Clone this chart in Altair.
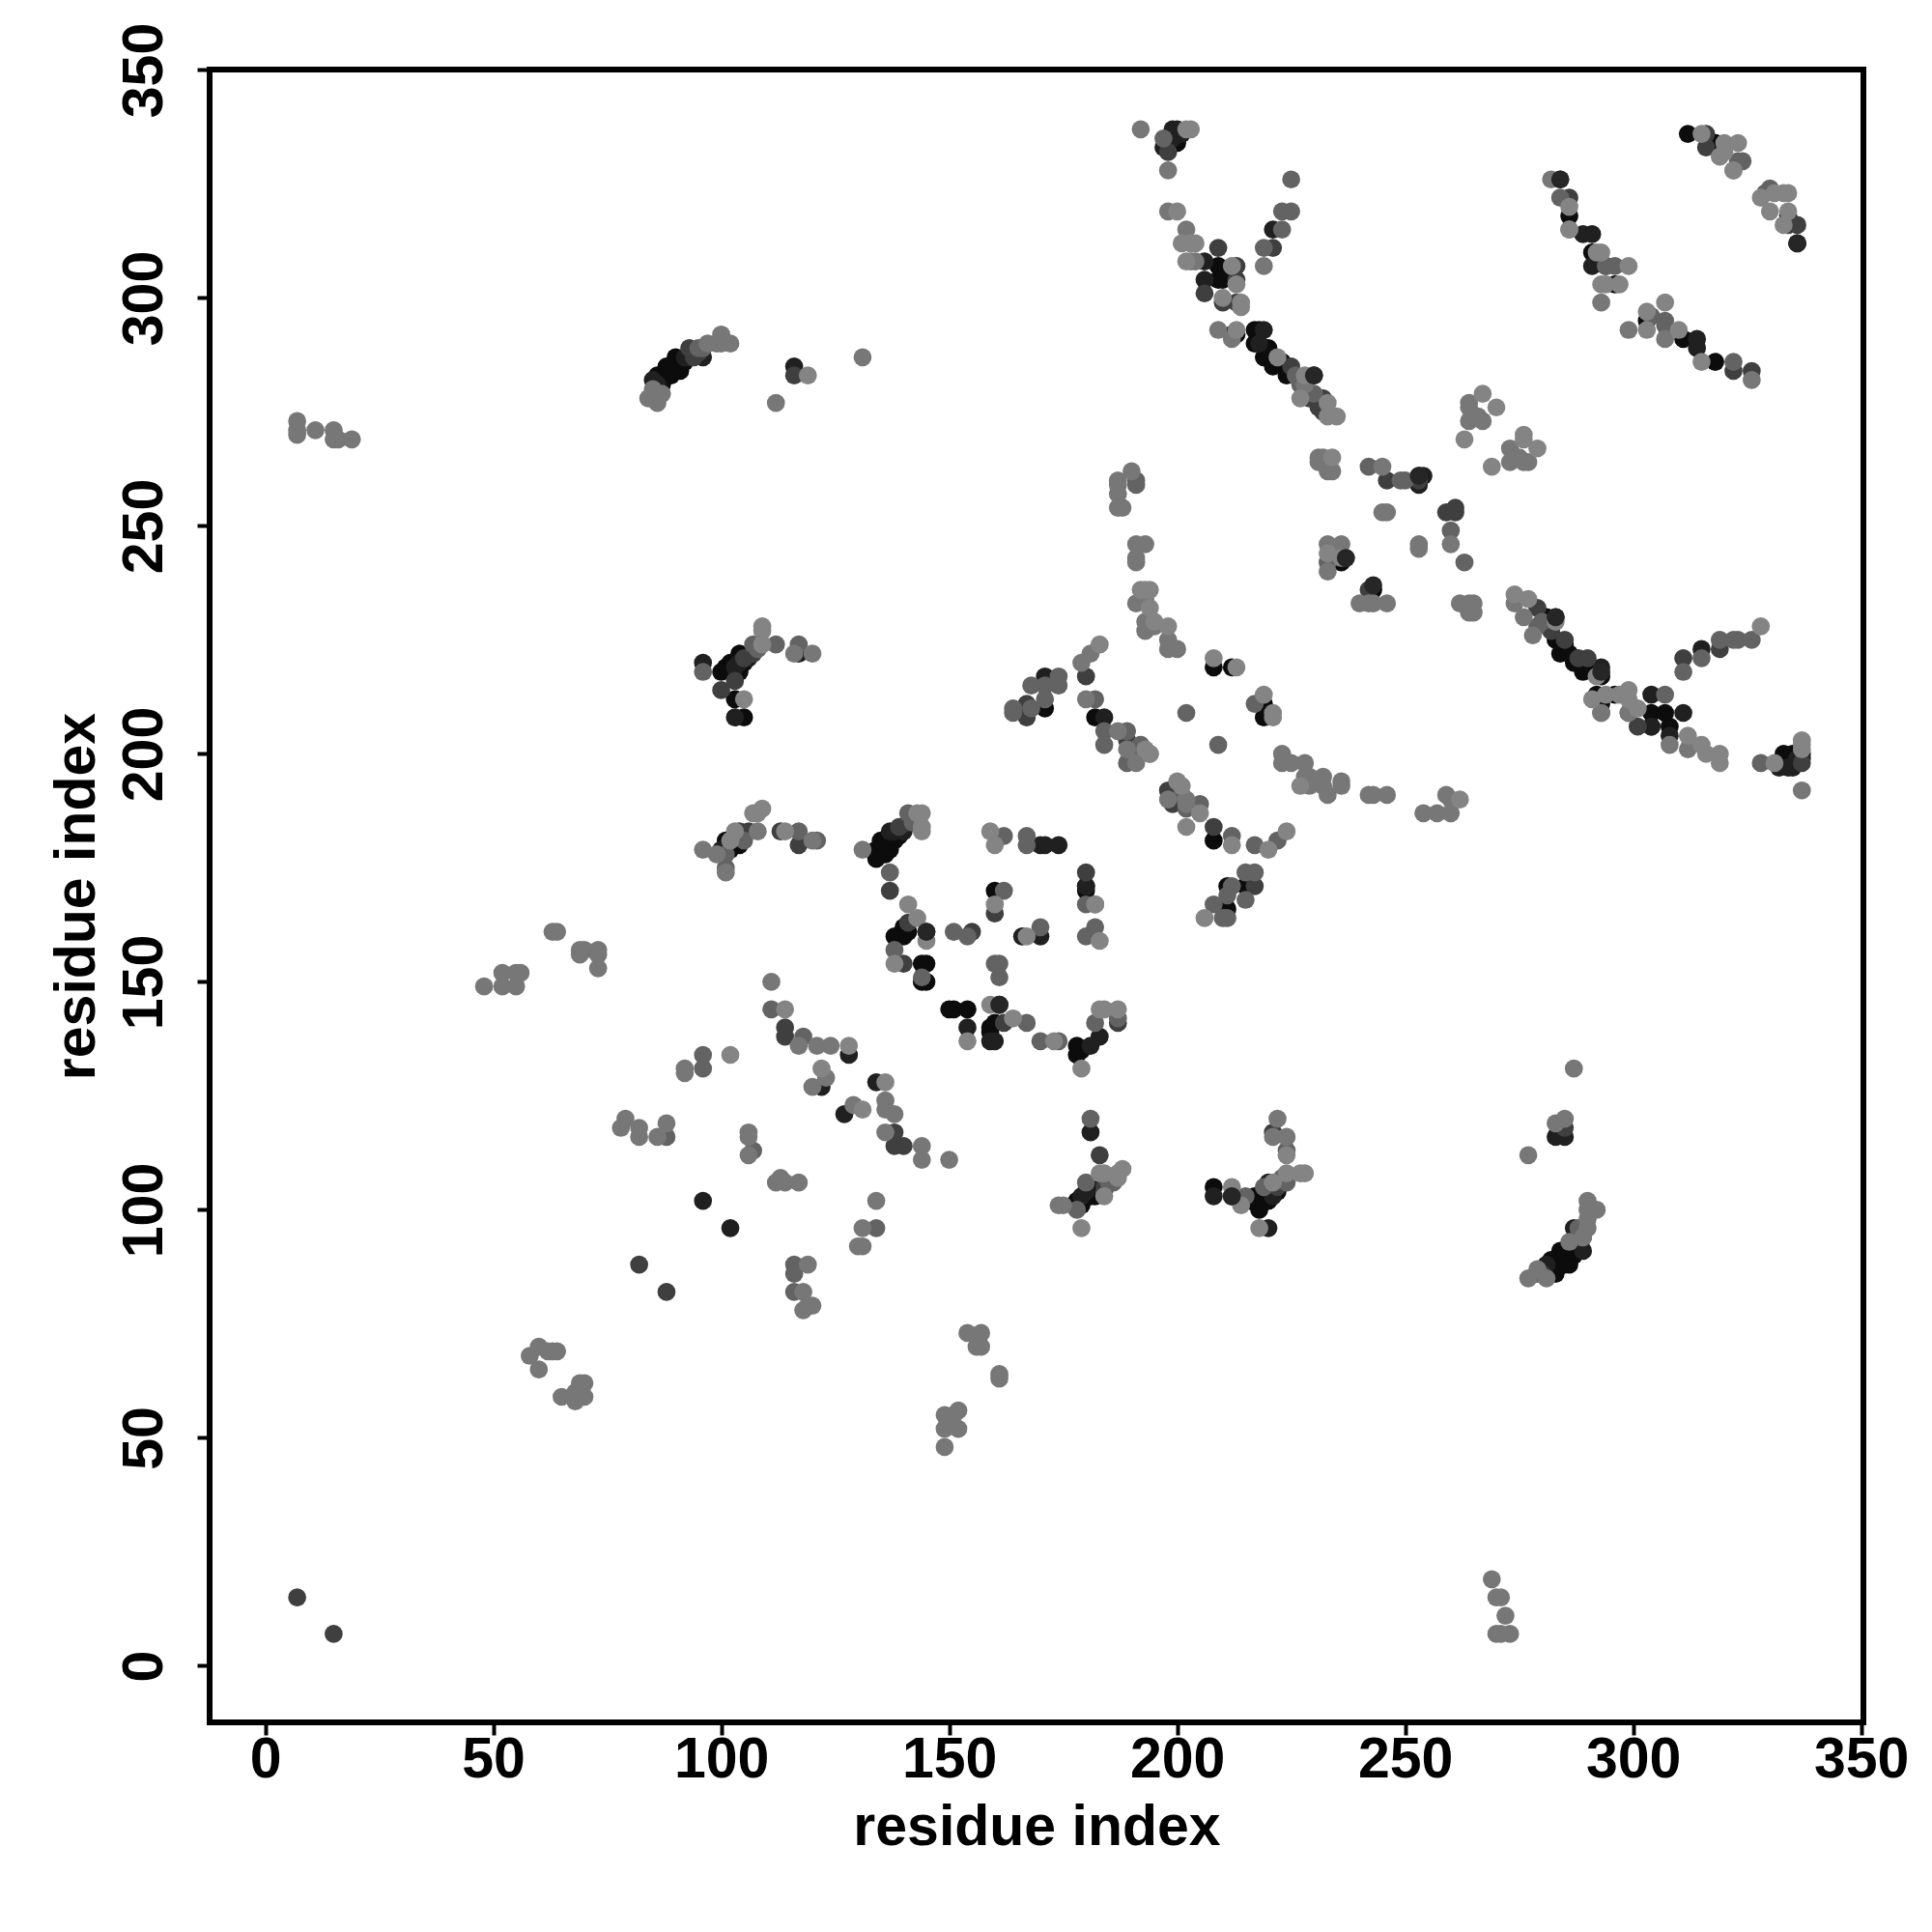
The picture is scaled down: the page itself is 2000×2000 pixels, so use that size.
import altair as alt
import pandas as pd

# contacts grouped by shade, (residue i, residue j); drawn black first, light afterwards
black = [(200,334),(209,307),(209,304),(210,304),(212,292),(213,292),(217,293),(218,293),(217,290),(219,287),(221,285),(224,283),
 (286,318),(291,310),(294,307),(296,303),(318,334),(334,318),(336,312),(312,336),(311,291),(318,286),(303,295),
 (281,230),(283,225),(284,222),(287,220),(289,218),(293,217),(292,213),(293,211),(296,213),(304,209),(307,209),(304,206),(308,206),(333,200),(335,200),(215,171),
 (90,287),(91,284),(88,285),(86,283),(89,283),(87,282),(104,222),(102,220),(103,212),(105,208),(100,218),(102,179),(104,180),(101,181),
 (134,179),(135,181),(136,178),(134,177),(137,179),(140,162),(140,160),(145,161),(138,160),(144,154),(145,154),(145,150),(144,150),
 (150,144),(151,144),(154,144),(161,145),(159,140),(160,141),(159,139),(178,136),(178,134),(179,135),(180,170),(160,170),(171,210),(182,208),(208,219),(212,219),(219,211),(219,208),(208,181),(211,171),(211,166),
 (243,236),(236,242),(179,101),(182,103),(180,103),(178,102),(181,104),(208,105),(212,103),(217,103),(218,100),(220,102),(222,104),(216,102),(287,90),(284,91),(285,88),(282,89),(283,86),(286,88),(288,92),
 (88,283),(89,284),(90,285),(91,286),(92,286),(87,281),(103,217),(104,218),(105,220),(101,219),(137,181),(138,181),(139,182),(102,180),(103,181),(181,103),(182,104),(183,105),(219,103),(220,104),(221,105),(218,101),(282,87),(283,88),(284,89),(285,90),(286,91),(287,91),(140,161),(141,161),(139,160),
 (220,289),(220,288),(223,286),(285,224),(286,222),(291,219)]
vdark = [(199,337),(200,337),(199,335),(197,333),(201,336),(206,308),(206,304),(219,293),(218,290),(230,283),(221,315),(284,326),(289,314),(291,314),(291,307),(314,291),(314,289),
 (283,230),(293,219),(304,213),(304,206),(308,204),(311,209),(315,223),(332,197),(334,197),(335,197),(337,199),
 (116,285),(96,287),(96,220),(103,208),(117,222),(137,183),(171,217),(170,180),(171,180),(174,180),(180,171),(170,160),(166,160),(159,137),(160,137),(154,140),(183,138),(181,136),
 (184,208),(96,102),(102,96),(134,128),(128,134),(122,127),(127,121),(180,171),(253,261),(254,261),(253,259),(208,103),(184,105),(220,96),(285,116),(283,116),(181,117),(287,96),
 (92,287),(93,287),(86,281),(85,282),(106,221),(104,220),(103,219),(105,182),(103,182),(100,179),(138,183),(140,183),(180,104),(179,103),(220,106),(221,103),(281,88),(280,87),(288,93),(289,91),(337,200),(336,199)]
dark = [(198,332),(209,311),(213,304),(213,299),(213,307),(225,285),(221,311),(231,276),(229,278),(206,301),(210,299),(286,322),(322,284),(326,284),(316,333),(316,336),
 (259,253),(261,254),(261,253),(253,260),(237,243),(242,236),(246,260),(285,225),(279,232),(290,221),(301,206),(299,209),(319,223),(311,221),(337,198),
 (116,283),(93,289),(94,287),(103,216),(100,214),(117,180),(113,183),(137,170),(141,163),(140,154),(155,161),(162,141),(187,141),(183,112),(208,184),(217,171),(7,15),(15,7),(82,88),(88,82),
 (114,140),(114,138),(138,114),(140,114),(138,117),(167,211),(167,208),(180,217),(198,192),(199,189),(180,174),(160,165),(221,117),(184,104),(285,118),(336,316),(334,316),
 (94,288),(95,288),(105,221),(107,222),(106,183),(104,183),(139,184),(141,185),(184,105),(222,105),(288,94),(289,94),(280,86),(199,191),(200,190),(190,199),(191,200),(189,203),(190,201),
 (232,278),(231,278),(232,275),(288,221),(282,227)]
mid = [(197,335),(223,319),(225,319),(225,326),(223,315),(219,311),(284,322),(296,307),(294,307),(304,296),(307,295),(307,294),(329,323),(330,324),(324,330),(323,330),(322,286),
 (242,263),(260,249),(263,242),(250,260),(249,260),(233,242),(307,213),(311,218),(319,225),(326,225),(323,225),(322,225),(315,221),(328,198),(293,209),
 (168,215),(174,217),(174,215),(171,215),(171,212),(168,210),(164,210),(164,209),(182,212),(184,205),(189,205),(192,200),(189,198),(205,189),(212,182),(217,180),(222,181),(215,174),(217,174),(212,171),(215,168),(211,169),(208,167),(210,164),(211,164),(217,211),
 (162,182),(167,182),(167,180),(162,170),(141,187),(137,174),(182,167),(180,167),(182,162),(170,162),(151,161),(154,160),(138,157),(144,151),(160,154),(161,154),(161,151),(167,141),(170,137),(174,137),(182,141),(187,142),
 (112,224),(117,224),(121,181),(117,183),(96,218),(101,175),(111,144),(118,138),(96,134),(96,131),(88,116),(107,113),(134,96),(116,88),(116,86),(116,82),(178,100),(180,106),(215,103),(219,105),(224,113),(224,106),(181,120),(191,260),(191,259),(180,160),(209,202),(202,209),(184,202),
 (95,289),(96,289),(107,224),(108,223),(101,178),(105,181),(142,185),(185,106),(186,106),(223,107),(224,107),(289,96),(288,96),(279,86),(201,191),(202,188),(191,199),(192,202),
 (226,283),(227,281),(230,279),(280,229),(279,228)]
gray = [(192,337),(198,328),(198,319),(202,315),(204,308),(203,308),(209,293),(212,291),(219,307),(228,281),(282,326),(286,315),(293,299),(299,293),(307,291),(322,328),(326,282),
 (264,277),(264,276),(264,273),(266,274),(267,273),(273,267),(273,264),(275,265),(276,264),(277,264),(231,265),(232,265),(231,264),(233,262),(234,262),(245,263),(245,253),(246,253),(253,246),(253,245),(260,246),(233,246),(236,246),(233,240),(240,233),(242,233),(243,233),(246,233),
 (262,233),(264,233),(265,233),(264,231),(265,231),(274,233),(276,230),(278,226),(293,209),(299,209),(308,202),(312,201),(337,192),
 (190,262),(187,260),(187,259),(187,257),(187,254),(188,254),(191,246),(193,246),(191,243),(191,242),(191,233),(193,234),(193,229),(193,227),(195,228),(198,225),(198,223),(200,223),(181,222),(179,220),(180,212),(187,205),(189,201),(191,198),(194,200),
 (223,200),(223,198),(225,198),(228,198),(228,195),(229,195),(229,193),(232,195),(232,193),(233,191),(236,194),(236,193),(242,191),(243,191),(246,191),(254,187),(257,187),(260,187),(259,191),(260,190),(198,190),(202,190),(202,189),
 (85,280),(87,279),(84,278),(86,277),(86,278),(112,277),(131,287),(99,290),(97,290),(100,290),(102,290),(100,292),(116,222),(120,222),(120,181),(99,178),(96,179),(131,179),(101,174),(108,183),
 (63,161),(64,161),(69,157),(70,157),(69,156),(73,157),(73,156),(73,153),(52,152),(55,152),(56,152),(48,149),(52,149),(55,149),(111,150),(117,136),(121,136),(124,136),(120,127),(123,129),(129,123),(136,124),(136,122),(136,117),(138,121),(144,111),(92,131),(92,130),
 (79,120),(78,118),(82,118),(82,116),(86,116),(88,119),(106,117),(106,116),(106,112),(112,106),(113,107),(114,106),(117,106),(134,102),(131,96),(130,92),(131,92),(119,88),(118,82),(118,78),(119,79),(120,79),
 (150,111),(144,114),(174,101),(175,101),(222,120),(224,116),(221,116),
 (7,273),(7,271),(7,270),(11,271),(15,271),(15,269),(16,269),(19,269),(269,19),(270,15),(271,15),(272,11),(270,7),(271,7),(273,7),
 (149,48),(149,52),(149,55),(151,55),(152,52),(152,56),(154,73),(157,73),(157,70),(156,70),(161,64),(161,63),(58,68),(60,70),(60,65),(62,69),(63,69),(64,69),(65,59),(68,58),(69,62),(70,62),(70,59),(68,60),
 (277,112),(283,119),(277,85),(279,87),(281,85),(289,94),(286,93),(287,131),(290,96),(290,98),(290,100),(290,102),(292,100),(285,120)]
light = [(203,337),(202,337),(200,319),(204,312),(203,312),(201,312),(202,308),(212,307),(210,300),(213,303),(214,298),(214,299),(213,293),(222,287),(228,283),(227,278),(233,277),(233,274),(235,274),
 (315,286),(303,293),(303,297),(307,299),(310,293),(293,303),(294,303),(297,303),(299,307),(292,310),(293,310),(286,320),(286,315),(315,336),
 (320,334),(323,334),(319,331),(320,332),(322,328),(330,319),(334,323),(333,323),(331,323),(328,322),(334,319),(333,316),
 (267,279),(270,276),(263,269),(276,270),(276,269),(279,267),(269,263),(234,265),(236,243),(233,244),
 (274,235),(277,234),(283,229),(292,217),(291,212),(294,213),(297,213),(299,214),(299,212),(301,210),(312,204),(315,202),(316,200),(319,200),(319,198),(328,228),(331,198),(337,203),(337,202),(337,201),
 (183,224),(192,236),(193,236),(194,236),(194,232),(195,229),(198,228),(213,219),(208,221),(219,213),(221,209),(221,208),(194,200),(193,201),
 (200,194),(201,193),(205,187),(202,184),(212,180),(220,179),(224,183),(227,193),(262,190),(206,164),
 (109,228),(109,227),(105,212),(109,224),(119,283),(108,187),(109,188),(107,187),(114,183),(103,183),(102,181),(144,187),(143,187),(144,184),(144,183),
 (159,183),(160,180),(160,167),(141,167),(143,164),(145,159),(138,154),(167,160),(182,167),(183,159),(154,137),(159,145),(164,142),(173,137),(179,131),(183,144),(184,144),(187,144),
 (114,144),(128,136),(122,131),(131,122),(136,128),(102,134),(179,96),(183,108),(184,108),(187,107),(188,109),(187,108),(212,105),(214,101),(221,106),(224,108),(227,108),(228,108),(224,112),(218,96),(184,103)]
top = [(283,230),(293,218),(230,283),(253,261),(237,243),(243,237),(284,326),(336,312),(145,161),(161,145),(212,103)]

shades = [("#0c0c0c", black), ("#202020", vdark), ("#3f3f3f", dark), ("#636363", mid), ("#777777", gray), ("#848484", light), ("#262626", top)]
rows = [{"i": p[0], "j": p[1], "shade": s} for s, pts in shades for p in pts]
df = pd.DataFrame(rows)

FONT = "Liberation Sans"
ticks = [0, 50, 100, 150, 200, 250, 300, 350]

chart = alt.Chart(df).mark_circle(size=350, opacity=1).encode(
    x=alt.X("i:Q", scale=alt.Scale(domain=[-12.2, 350.5], nice=False, zero=False),
            axis=alt.Axis(values=ticks, title="residue index", grid=False, domain=False, format="d",
                          labelFont=FONT, labelFontWeight="bold", labelFontSize=59, labelColor="black",
                          titleFont=FONT, titleFontWeight="bold", titleFontSize=59, titleColor="black",
                          tickColor="black", tickWidth=4, tickSize=13, labelPadding=-4, titlePadding=11, labelFlush=False, labelOverlap=False)),
    y=alt.Y("j:Q", scale=alt.Scale(domain=[-12.4, 350.1], nice=False, zero=False),
            axis=alt.Axis(values=ticks, title="residue index", grid=False, domain=False, format="d",
                          labelFont=FONT, labelFontWeight="bold", labelFontSize=59, labelColor="black", labelAngle=270,
                          labelAlign="center", labelBaseline="bottom",
                          titleFont=FONT, titleFontWeight="bold", titleFontSize=59, titleColor="black",
                          tickColor="black", tickWidth=4, tickSize=13, labelPadding=25, titlePadding=11, labelFlush=False, labelOverlap=False)),
    color=alt.Color("shade:N", scale=None),
).properties(
    width=1712, height=1711, autosize="none",
    padding={"left": 209, "top": 64, "right": 60, "bottom": 200},
    background="white",
).configure_view(stroke="black", strokeWidth=6)

chart.save("out.html", embed_options={"renderer": "svg", "actions": False})
